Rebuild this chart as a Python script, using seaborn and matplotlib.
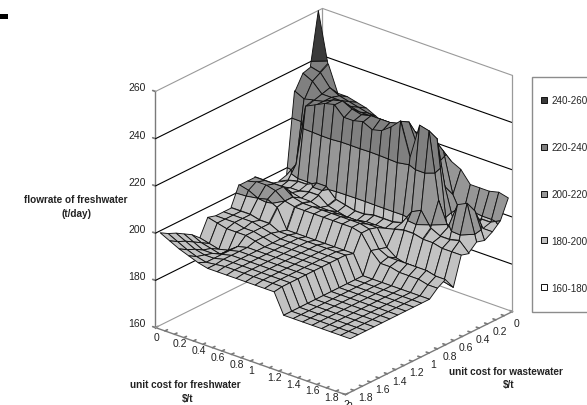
import numpy as np
import matplotlib
matplotlib.use("Agg")
import matplotlib.pyplot as plt
import seaborn as sns
from matplotlib.lines import Line2D
from matplotlib.patches import Rectangle
from mpl_toolkits.mplot3d.art3d import Poly3DCollection

freshwater_cost = [round(0.1 * k, 1) for k in range(21)]
wastewater_cost = [round(0.1 * k, 1) for k in range(21)]
tick_labels = ['0', '', '0.2', '', '0.4', '', '0.6', '', '0.8', '', '1', '', '1.2', '', '1.4', '', '1.6', '', '1.8', '', '2']
z_ticks = [160, 180, 200, 220, 240, 260]
band_labels = ['240-260', '220-240', '200-220', '180-200', '160-180']
band_colors = ['#3a3a3a', '#808080', '#969696', '#c2c2c2', '#ffffff']

w00 = [260,239,228,228,227,226,224,222,222,221,220,220,220,218,216,214,209,209,209,210,209]
w01 = [238,237,232,230,229,228,227,226,226,226,226,226,226,222,222,205,197,197,199,199,201]
w02 = [237,235,231,231,231,230,229,229,229,229,229,229,228,224,228,210,195,195,197,198,198]
w03 = [231,229,230,231,233,234,232,231,232,232,232,233,235,225,232,232,197,197,206,207,196]
w04 = [197,203,229,231,233,234,230,230,231,229,230,233,237,223,238,237,209,199,210,212,197]
w05 = [196,198,199,199,201,201,197,196,195,195,196,196,196,197,203,205,199,197,197,198,194]
w06 = [197,197,198,198,199,199,196,195,194,194,195,195,195,196,197,197,196,196,195,195,195]
w07 = [199,199,199,199,198,198,197,197,197,197,197,197,197,190,187,186,186,185,185,184,183]
w08 = [203,203,203,203,200,199,199,199,199,199,199,199,198,191,189,189,189,189,189,188,188]
w09 = [203,204,204,203,200,199,199,199,199,199,199,199,198,192,188,188,187,187,187,186,186]
w10 = [203,202,200,201,199,191,191,191,191,191,191,191,191,183,183,183,183,183,183,183,183]
w11 = [195,195,195,194,194,192,192,192,192,192,192,192,192,183,183,183,183,183,183,183,183]
w12 = [195,195,195,195,194,193,192,192,192,192,192,192,192,183,183,183,183,183,183,183,183]
w13 = [195,195,195,194,194,193,192,192,192,192,192,192,192,183,183,183,183,183,183,183,183]
w14 = [196,195,194,194,194,193,192,192,192,192,192,192,192,183,183,183,183,183,183,183,183]
w15 = [189,188,187,188,191,192,192,192,192,192,192,192,192,183,183,183,183,183,183,183,183]
w16 = [192,190,189,188,191,192,192,192,192,192,192,192,192,183,183,183,183,183,183,183,183]
w17 = [194,192,190,190,191,192,192,192,192,192,192,192,192,183,183,183,183,183,183,183,183]
w18 = [196,194,192,191,191,192,192,192,192,192,192,192,192,183,183,183,183,183,183,183,183]
w19 = [197.5,195.5,193.5,192,191,191.5,192,192,192,192,192,192,192,183,183,183,183,183,183,183,183]
w20 = [199.5,197.5,195.5,194,192.5,191.5,191.5,191.5,191.5,191.5,191.5,191.5,191.5,183,183,183,183,183,183,183,183]
flow = np.array([w00,w01,w02,w03,w04,w05,w06,w07,w08,w09,w10,w11,w12,w13,w14,w15,w16,w17,w18,w19,w20], dtype=float)

sns.set_theme(style='white', font='Liberation Sans')
sns.set_palette(band_colors)
palette = sns.color_palette()

fig = plt.figure(figsize=(5.87, 4.06), dpi=100)
ax = fig.add_axes([125.5/587, -5/406, 406/587, 406/406], projection='3d', proj_type='ortho', computed_zorder=False)
ax.set_box_aspect((248.4, 259.3, 260), zoom=1.06)
ax.view_init(elev=24.75, azim=-49.9)
ax.set_xlim(0, 2, view_margin=0)
ax.set_ylim(2, 0, view_margin=0)
ax.set_zlim(160, 260, view_margin=0)
ax.patch.set_alpha(0)

# axes
for axis in (ax.xaxis, ax.yaxis, ax.zaxis):
    axis.pane.set_facecolor((1, 1, 1, 0))
    axis.pane.set_edgecolor((1, 1, 1, 0))
    axis.line.set_color('#7a7a7a')
    axis.line.set_linewidth(1.0)
    axis._axinfo['tick']['inward_factor'] = 0.0
    axis._axinfo['tick']['outward_factor'] = 0.18
ax.grid(False)
ax.set_xticks(freshwater_cost, tick_labels)
ax.set_yticks(wastewater_cost, tick_labels)
ax.set_zticks(z_ticks, [str(z) for z in z_ticks])
ax.zaxis.set_ticks_position('upper')
ax.zaxis.set_label_position('upper')
for a, p in (('x', -6), ('y', -5), ('z', 0)):
    ax.tick_params(axis=a, labelsize=7.5, pad=p, labelcolor='#222222', color='#7a7a7a', width=0.7)
for t in ax.get_xticklabels():
    t.set_ha('left')
for t in ax.get_zticklabels():
    t.set_va('bottom')

# wall lines
for z in z_ticks:
    c = '#9a9a9a' if z in (160, 260) else '#000000'
    ax.plot([0, 0, 2], [2, 0, 0], [z, z, z], color=c, lw=0.8, zorder=0.5)
for x_, y_ in ((0, 0), (2, 0)):
    ax.plot([x_, x_], [y_, y_], [160, 260], color='#9a9a9a', lw=0.9, zorder=0.5)


def clip(poly, lo, hi):
    def half(points, keep, cross_level):
        out = []
        n = len(points)
        for a in range(n):
            p, q = np.array(points[a]), np.array(points[(a + 1) % n])
            kp, kq = keep(p[2]), keep(q[2])
            if kp:
                out.append(tuple(p))
            if kp != kq:
                t = (cross_level - p[2]) / (q[2] - p[2])
                out.append(tuple(p + t * (q - p)))
        return out
    r = half(poly, lambda z: z >= lo, lo)
    if r:
        r = half(r, lambda z: z <= hi, hi)
    return r


# the surface sits slightly inside the wastewater axis, as in the source chart
surface_w = [0.05 + 0.95 * w for w in wastewater_cost]
levels = [(240, 260), (220, 240), (200, 220), (180, 200), (160, 180)]
nw, nf = flow.shape
for j in range(nw - 1):
    for i in range(nf - 1):
        quad = [(freshwater_cost[i], surface_w[j], flow[j, i]),
                (freshwater_cost[i + 1], surface_w[j], flow[j, i + 1]),
                (freshwater_cost[i + 1], surface_w[j + 1], flow[j + 1, i + 1]),
                (freshwater_cost[i], surface_w[j + 1], flow[j + 1, i])]
        verts, cols = [], []
        for (lo, hi), col in zip(levels, palette):
            part = clip(quad, lo, hi)
            if len(part) >= 3:
                verts.append(part)
                cols.append(col)
        pc = Poly3DCollection(verts, facecolors=cols, edgecolors='#111111', linewidths=0.65)
        ax.add_collection3d(pc)
        pc.set_zorder(2 + i + j)

fig.add_artist(Rectangle((531.7/587, 1 - 313/406), 80/587, 235/406, transform=fig.transFigure,
                         facecolor='white', edgecolor='#8c8c8c', linewidth=1))
handles = [Line2D([], [], linestyle='none', marker='s', markersize=5, markerfacecolor=c,
                  markeredgecolor='#111111', markeredgewidth=0.7) for c in palette]
leg = fig.legend(handles, band_labels, loc='upper left', bbox_to_anchor=(540/587, 1 - 96/406),
                 borderaxespad=0, borderpad=0, labelspacing=3.75, handlelength=0.8, handletextpad=0.35,
                 frameon=False, fontsize=7.1)
leg.set_zorder(5)

tx = dict(ha='center', va='center', fontsize=7.2, fontweight='bold', color='#222222')
fig.text(76/587, 1 - 200/406, 'flowrate of freshwater', **tx)
fig.text(76/587, 1 - 214/406, '(t/day)', **tx)
fig.text(185/587, 1 - 385/406, 'unit cost for freshwater', **tx)
fig.text(188/587, 1 - 399/406, r'\$/t', **tx)
fig.text(506/587, 1 - 372/406, 'unit cost for wastewater', **tx)
fig.text(509/587, 1 - 385/406, r'\$/t', **tx)
fig.add_artist(Rectangle((0, 1 - 20/406), 8/587, 5/406, transform=fig.transFigure, facecolor='black', edgecolor='none'))

fig.savefig('out.png', dpi=100)
